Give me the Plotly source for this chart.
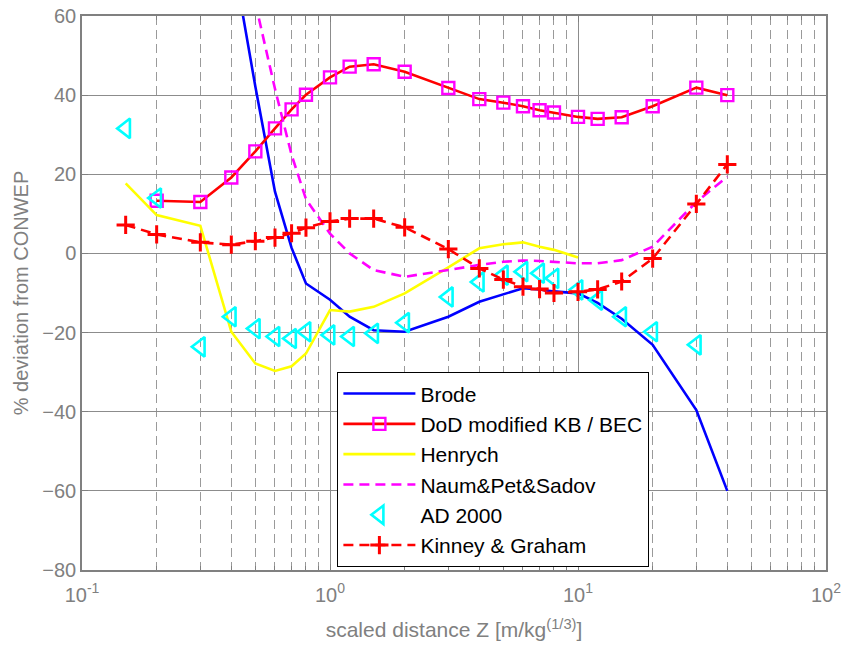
import plotly.graph_objects as go

# ---------------- data ----------------
brode_x = [0.4, 0.5, 0.6, 0.7, 0.8, 1, 1.2, 1.5, 2, 3, 4, 5, 6, 7, 8, 10, 12, 15, 20, 30, 40]
brode_y = [77, 42.2, 15.6, 1.4, -7.6, -11.7, -16, -19.4, -19.8, -16, -12.2, -10.3, -8.8, -9.1, -9.6, -10.1, -12.5, -16.5, -23.1, -39.6, -60]

dod_x = [0.2, 0.3, 0.4, 0.5, 0.6, 0.7, 0.8, 1, 1.2, 1.5, 2, 3, 4, 5, 6, 7, 8, 10, 12, 15, 20, 30, 40]
dod_y = [13.3, 13, 19.2, 25.8, 31.6, 36.4, 40.1, 44.5, 47.2, 47.8, 45.9, 41.8, 39, 38.1, 37.2, 36.2, 35.6, 34.5, 34, 34.4, 37.2, 41.9, 40]

henrych_x = [0.15, 0.2, 0.3, 0.4, 0.5, 0.6, 0.7, 0.8, 1, 1.2, 1.5, 2, 3, 4, 5, 6, 7, 8, 10]
henrych_y = [17.7, 9.7, 7, -19.8, -27.8, -29.7, -28.5, -25.3, -14.3, -14.7, -13.5, -10.1, -3.5, 1.3, 2.3, 2.8, 1.7, 0.9, -1]

naum_x = [0.5, 0.6, 0.7, 0.8, 1, 1.2, 1.5, 2, 3, 4, 5, 6, 7, 8, 10, 12, 15, 20, 30, 40]
naum_y = [63.3, 41.6, 24.9, 13.7, 5.0, 0, -4.2, -5.9, -4.2, -2.9, -2.1, -1.8, -1.9, -2.1, -2.5, -2.5, -1.7, 1.7, 13, 19.4]

ad_x = [0.15, 0.2, 0.3, 0.4, 0.5, 0.6, 0.7, 0.8, 1, 1.2, 1.5, 2, 3, 4, 5, 6, 7, 8, 10, 12, 15, 20, 30]
ad_y = [31.6, 14, -23.6, -16, -19, -21, -21.5, -19.8, -20.6, -21, -20.2, -17.5, -11, -7.2, -5.5, -4.6, -5, -6.3, -9.2, -11.8, -16, -19.8, -23.1]

kg_x = [0.15, 0.2, 0.3, 0.4, 0.5, 0.6, 0.7, 0.8, 1, 1.2, 1.5, 2, 3, 4, 5, 6, 7, 8, 10, 12, 15, 20, 30, 40]
kg_y = [7.2, 4.8, 2.8, 2.2, 3.1, 4.0, 5.1, 6.5, 8.1, 8.8, 8.8, 6.6, 1.1, -3.8, -6.6, -8.4, -9.0, -10.0, -9.7, -9.1, -7.1, -1.3, 12.5, 22.5]

x_tickvals = [0.1, 1, 10, 100]
x_ticktext = ["10<sup>-1</sup>", "10<sup>0</sup>", "10<sup>1</sup>", "10<sup>2</sup>"]
y_tickvals = [-80, -60, -40, -20, 0, 20, 40, 60]
x_minor = [m * 10 ** e for e in (-1, 0, 1) for m in range(2, 10)]

FONT = "Liberation Sans, Arial, sans-serif"
GRAY = "#808080"

fig = go.Figure()
fig.add_trace(go.Scatter(x=brode_x, y=brode_y, mode="lines", name="Brode",
                         line=dict(color="#0000ff", width=2.6)))
fig.add_trace(go.Scatter(x=dod_x, y=dod_y, mode="lines+markers", name="DoD modified KB / BEC",
                         line=dict(color="#ff0000", width=2.6),
                         marker=dict(symbol="square-open", size=12, color="#ff00ff",
                                     line=dict(color="#ff00ff", width=2.4))))
fig.add_trace(go.Scatter(x=henrych_x, y=henrych_y, mode="lines", name="Henrych",
                         line=dict(color="#ffff00", width=2.6)))
fig.add_trace(go.Scatter(x=naum_x, y=naum_y, mode="lines", name="Naum&Pet&Sadov",
                         line=dict(color="#ff00ff", width=2.6, dash="10px,6px")))
fig.add_trace(go.Scatter(x=ad_x, y=ad_y, mode="markers", name="AD 2000",
                         marker=dict(symbol="triangle-left-open", size=17, color="#00ffff",
                                     line=dict(color="#00ffff", width=2.6))))
fig.add_trace(go.Scatter(x=kg_x, y=kg_y, mode="lines+markers", name="Kinney & Graham",
                         line=dict(color="#ff0000", width=2.6, dash="10px,6px"),
                         marker=dict(symbol="cross-thin-open", size=13,
                                     line=dict(color="#ff0000", width=3))))

fig.update_layout(
    width=846, height=646,
    margin=dict(l=82, r=20, t=16, b=76),
    paper_bgcolor="white", plot_bgcolor="white",
    font=dict(family=FONT, size=20, color=GRAY),
    showlegend=True,
    legend=dict(x=0.343, y=0.357, xanchor="left", yanchor="top",
                bgcolor="white", bordercolor="black", borderwidth=1.2,
                font=dict(family=FONT, size=21, color="black"),
                itemwidth=72, tracegroupgap=0),
    xaxis=dict(
        type="log", range=[-1, 2], automargin=False,
        tickmode="array", tickvals=x_tickvals, ticktext=x_ticktext,
        ticks="inside", ticklen=6, tickcolor=GRAY,
        showline=True, linecolor=GRAY, linewidth=1.5, mirror="ticks",
        showgrid=True, gridcolor="#8c8c8c", gridwidth=1,
        zeroline=False,
        ticklabelstandoff=6,
        minor=dict(tickmode="array", tickvals=x_minor, ticks="inside", ticklen=4,
                   tickcolor=GRAY, showgrid=True, gridcolor="#9a9a9a",
                   griddash="9px,5px", gridwidth=1),
        title=dict(text="scaled distance Z [m/kg<sup>(1/3)</sup>]",
                   font=dict(family=FONT, size=21, color=GRAY), standoff=18),
    ),
    yaxis=dict(
        range=[-80, 60], tickmode="array", tickvals=y_tickvals, automargin=False,
        ticks="inside", ticklen=6, tickcolor=GRAY,
        showline=True, linecolor=GRAY, linewidth=1.5, mirror="ticks",
        showgrid=True, gridcolor="#8c8c8c", gridwidth=1,
        zeroline=False,
        title=dict(text="% deviation from CONWEP",
                   font=dict(family=FONT, size=20, color=GRAY), standoff=8),
    ),
)

fig.write_html("out.html")
